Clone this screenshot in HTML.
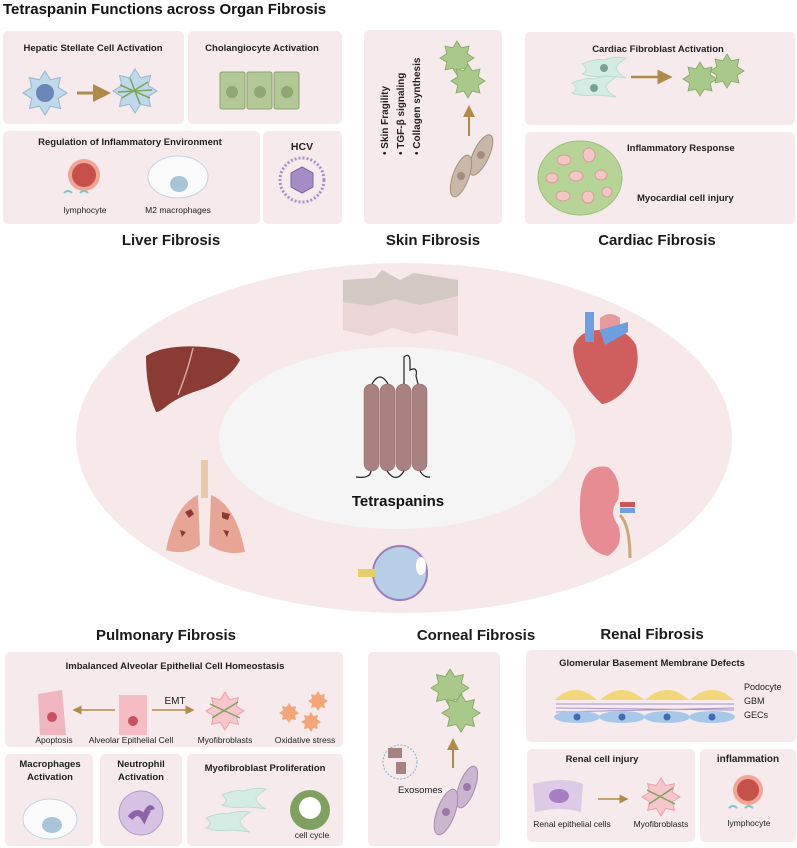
<!DOCTYPE html>
<html><head><meta charset="utf-8"><style>
html,body{margin:0;padding:0;background:#fff;}
svg{display:block;font-family:"Liberation Sans",Arial,sans-serif;}
.h{font-weight:bold;font-size:9.5px;fill:#222;}
.o{font-weight:bold;font-size:15px;fill:#1a1a1a;}
.s{font-size:8.5px;fill:#222;}
</style></head><body>
<svg width="797" height="848" viewBox="0 0 797 848" xmlns="http://www.w3.org/2000/svg">
<defs>
<path id="star" d="M20,0 L12,5 L14.1,14.1 L5,12 L0,20 L-5,12 L-14.1,14.1 L-12,5 L-20,0 L-12,-5 L-14.1,-14.1 L-5,-12 L0,-20 L5,-12 L14.1,-14.1 L12,-5 Z"/>
<path id="spin" d="M-22,-4 Q-8,-10 0,-8 Q10,-12 22,-10 Q12,-3 12,0 Q14,6 22,10 Q8,8 0,8 Q-10,10 -22,6 Q-14,2 -22,-4Z"/>
<marker id="ar" markerWidth="6" markerHeight="6" refX="5" refY="3" orient="auto"><path d="M0,0 L6,3 L0,6Z" fill="#b08a4a"/></marker>
</defs>

<text x="3" y="14" style="font-weight:bold;font-size:15px" fill="#111">Tetraspanin Functions across Organ Fibrosis</text>

<g fill="#f6eaec">
<rect x="3" y="31" width="181" height="93" rx="5"/>
<rect x="188" y="31" width="154" height="93" rx="5"/>
<rect x="3" y="131" width="257" height="93" rx="5"/>
<rect x="263" y="131" width="79" height="93" rx="5"/>
<rect x="364" y="30" width="138" height="194" rx="5"/>
<rect x="525" y="32" width="270" height="93" rx="5"/>
<rect x="525" y="132" width="270" height="92" rx="5"/>
<rect x="5" y="652" width="338" height="95" rx="5"/>
<rect x="5" y="754" width="88" height="92" rx="5"/>
<rect x="100" y="754" width="82" height="92" rx="5"/>
<rect x="187" y="754" width="156" height="92" rx="5"/>
<rect x="368" y="652" width="132" height="194" rx="5"/>
<rect x="526" y="650" width="270" height="92" rx="5"/>
<rect x="527" y="749" width="168" height="93" rx="5"/>
<rect x="700" y="749" width="96" height="93" rx="5"/>
</g>

<!-- Liver -->
<text class="h" x="93" y="51" text-anchor="middle">Hepatic Stellate Cell Activation</text>
<use href="#star" transform="translate(45,93) scale(1.1)" fill="#bfd8ea" stroke="#9bbad3"/>
<circle cx="45" cy="93" r="9" fill="#6b86b8"/>
<line x1="77" y1="93" x2="108" y2="93" stroke="#b08a4a" stroke-width="3" marker-end="url(#ar)"/>
<use href="#star" transform="translate(135,91) scale(1.1)" fill="#bfd8ea" stroke="#9bbad3"/>
<path d="M120,85 L150,98 M122,98 L148,82 M130,78 L140,104 M118,92 L152,90" stroke="#7ea35a" stroke-width="1.5"/>
<text class="h" x="262" y="51" text-anchor="middle">Cholangiocyte Activation</text>
<g fill="#b2c897" stroke="#8aa06e"><rect x="220" y="72" width="25" height="37" rx="2"/><rect x="247" y="72" width="25" height="37" rx="2"/><rect x="274" y="72" width="25" height="37" rx="2"/></g>
<g fill="#8fa873"><circle cx="232" cy="92" r="6"/><circle cx="260" cy="92" r="6"/><circle cx="287" cy="92" r="6"/></g>
<text class="h" x="130" y="145" text-anchor="middle">Regulation of Inflammatory Environment</text>
<circle cx="84" cy="175" r="16" fill="#f0a596"/><circle cx="84" cy="175" r="12" fill="#c6504a"/>
<path d="M64,193 q4,-4 8,0 M80,193 q4,-4 8,0" stroke="#7fc6c6" stroke-width="2" fill="none"/>
<text class="s" x="85" y="213" text-anchor="middle">lymphocyte</text>
<ellipse cx="178" cy="177" rx="30" ry="21" fill="#fafafa" stroke="#c5d3e3"/>
<ellipse cx="179" cy="184" rx="9" ry="8" fill="#a9c4d7"/>
<text class="s" x="178" y="213" text-anchor="middle">M2 macrophages</text>
<text class="h" x="302" y="150" text-anchor="middle" style="font-size:10.5px">HCV</text>
<circle cx="302" cy="180" r="22" fill="none" stroke="#a890c6" stroke-width="3" stroke-dasharray="2 2"/>
<polygon points="302,167 313,173 313,187 302,193 291,187 291,173" fill="#a58cc4" stroke="#7e63a5"/>
<text class="o" x="171" y="245" text-anchor="middle">Liver Fibrosis</text>

<!-- Skin -->
<g class="h" style="font-size:10px">
<text transform="translate(388,155) rotate(-90)">• Skin Fragility</text>
<text transform="translate(404,155) rotate(-90)">• TGF-β signaling</text>
<text transform="translate(420,155) rotate(-90)">• Collagen synthesis</text>
</g>
<use href="#star" transform="translate(457,58) scale(0.85)" fill="#a9c98b" stroke="#86a868"/>
<use href="#star" transform="translate(468,81) scale(0.85)" fill="#a9c98b" stroke="#86a868"/>
<line x1="469" y1="136" x2="469" y2="107" stroke="#b08a4a" stroke-width="2" marker-end="url(#ar)"/>
<ellipse cx="481" cy="155" rx="8" ry="22" transform="rotate(25 481 155)" fill="#c9b8a8" stroke="#a4907d"/>
<ellipse cx="461" cy="176" rx="8" ry="22" transform="rotate(20 461 176)" fill="#c9b8a8" stroke="#a4907d"/>
<circle cx="481" cy="155" r="4" fill="#a48a80"/><circle cx="461" cy="176" r="4" fill="#a48a80"/>
<text class="o" x="433" y="245" text-anchor="middle">Skin Fibrosis</text>

<!-- Cardiac -->
<text class="h" x="658" y="52" text-anchor="middle">Cardiac Fibroblast Activation</text>
<use href="#spin" transform="translate(604,68)" fill="#d5ece4" stroke="#bcdcd1"/>
<use href="#spin" transform="translate(594,87)" fill="#d5ece4" stroke="#bcdcd1"/>
<circle cx="604" cy="68" r="4" fill="#7aa092"/><circle cx="594" cy="88" r="4" fill="#7aa092"/>
<line x1="631" y1="77" x2="670" y2="77" stroke="#b08a4a" stroke-width="2.5" marker-end="url(#ar)"/>
<use href="#star" transform="translate(700,79) scale(0.85)" fill="#a9c98b" stroke="#86a868"/>
<use href="#star" transform="translate(727,71) scale(0.85)" fill="#a9c98b" stroke="#86a868"/>
<text class="h" x="627" y="151">Inflammatory Response</text>
<text class="h" x="637" y="201">Myocardial cell injury</text>
<ellipse cx="580" cy="178" rx="42" ry="37" fill="#b7d497" stroke="#9bc07a"/>
<g fill="#f2c8c6" stroke="#d89b98"><ellipse cx="564" cy="160" rx="7" ry="5"/><ellipse cx="589" cy="155" rx="6" ry="7"/><ellipse cx="552" cy="178" rx="6" ry="5"/><ellipse cx="576" cy="176" rx="7" ry="5"/><ellipse cx="601" cy="175" rx="6" ry="5"/><ellipse cx="563" cy="196" rx="7" ry="5"/><ellipse cx="588" cy="197" rx="6" ry="6"/><ellipse cx="607" cy="192" rx="5" ry="5"/></g>
<text class="o" x="657" y="245" text-anchor="middle">Cardiac Fibrosis</text>

<!-- center -->
<ellipse cx="404" cy="438" rx="328" ry="175" fill="#f7e8ea"/>
<ellipse cx="397" cy="438" rx="178" ry="91" fill="#f5f5f5"/>
<!-- skin tissue -->
<path d="M343,280 L375,278 L382,270 L400,280 L414,273 L458,280 L458,336 L430,330 L414,334 L392,328 L370,336 L343,330Z" fill="#ead6d6"/>
<path d="M343,280 L375,278 L382,270 L400,280 L414,273 L458,280 L458,296 L420,305 L395,299 L370,306 L343,302Z" fill="#d2c9c2"/>
<!-- liver -->
<path d="M146,356 Q165,344 205,347 Q235,350 240,360 Q230,380 200,390 Q180,396 168,405 Q160,412 156,412 Q146,390 146,356Z" fill="#8a3b33"/>
<path d="M193,348 Q188,370 178,395" stroke="#d8a8a0" stroke-width="1.5" fill="none"/>
<!-- heart -->
<path d="M573,348 Q578,330 600,330 Q625,326 636,345 Q643,375 620,395 Q610,403 602,404 Q575,380 573,348Z" fill="#cf5e5e"/>
<path d="M600,318 Q610,310 620,318 L620,332 L600,332Z" fill="#e69c9c"/>
<rect x="585" y="312" width="9" height="30" fill="#6f9fe0"/><path d="M600,330 L628,322 L628,332 L605,345Z" fill="#6f9fe0"/>
<!-- lungs -->
<rect x="201" y="460" width="7" height="38" fill="#e9c9a8"/>
<path d="M198,495 Q175,505 166,550 Q186,556 200,545Z M211,495 Q236,505 245,552 Q225,556 209,545Z" fill="#e7a695"/>
<path d="M185,512 l6,-3 l3,5 l-5,4z M222,512 l8,2 l-2,6 l-6,-2z M223,530 l6,1 l-2,6z M180,530 l6,2 l-4,5z" fill="#8a3b33"/>
<!-- kidney -->
<path d="M608,467 Q580,462 580,505 Q578,550 608,556 Q625,545 618,525 Q608,512 618,500 Q622,478 608,467Z" fill="#e88c93"/>
<rect x="620" y="502" width="15" height="5" fill="#c55"/><rect x="620" y="508" width="15" height="5" fill="#6f9fe0"/>
<path d="M620,515 Q630,525 630,558" stroke="#c8a878" stroke-width="3" fill="none"/>
<!-- eye -->
<circle cx="400" cy="573" r="27" fill="#b8cde6" stroke="#9a7fbd" stroke-width="2"/>
<rect x="358" y="569" width="18" height="8" fill="#e5cf6a"/>
<ellipse cx="421" cy="566" rx="5" ry="9" fill="#fff"/>
<!-- tetraspanin -->
<g fill="#a88181" stroke="#8b6767" stroke-width="0.5">
<rect x="364" y="384" width="15" height="87" rx="7"/><rect x="380" y="384" width="15" height="87" rx="7"/>
<rect x="396" y="384" width="15" height="87" rx="7"/><rect x="412" y="384" width="15" height="87" rx="7"/>
</g>
<path d="M372,384 Q380,370 388,384 M404,384 L404,357 Q410,352 410,362 L410,370 Q418,366 416,376 L418,384 M356,477 Q370,479 371,471 M387,471 Q396,484 404,471 M420,471 Q424,478 430,477" stroke="#222" fill="none" stroke-width="1.2"/>
<text x="398" y="506" text-anchor="middle" style="font-weight:bold;font-size:15px" fill="#111">Tetraspanins</text>

<!-- Pulmonary -->
<text class="o" x="166" y="640" text-anchor="middle">Pulmonary Fibrosis</text>
<text class="h" x="175" y="669" text-anchor="middle">Imbalanced Alveolar Epithelial Cell Homeostasis</text>
<path d="M38,694 L62,690 L66,735 L40,735 Z" fill="#f0b6bf"/><circle cx="52" cy="717" r="5" fill="#c8505f"/>
<line x1="115" y1="710" x2="74" y2="710" stroke="#b08a4a" stroke-width="1.5" marker-end="url(#ar)"/>
<rect x="119" y="695" width="28" height="40" fill="#f5bcc4"/><circle cx="133" cy="721" r="5" fill="#c8505f"/>
<line x1="152" y1="710" x2="193" y2="710" stroke="#b08a4a" stroke-width="1.5" marker-end="url(#ar)"/>
<text x="175" y="704" text-anchor="middle" style="font-size:10px" fill="#222">EMT</text>
<use href="#star" transform="translate(225,711) scale(0.95)" fill="#f7c5cc" stroke="#e8a0aa"/>
<path d="M210,704 L240,718 M212,718 L238,702" stroke="#7ea35a" stroke-width="1.5"/>
<g fill="#f2a679"><use href="#star" transform="translate(289,713) scale(0.5)"/><use href="#star" transform="translate(318,701) scale(0.5)"/><use href="#star" transform="translate(311,722) scale(0.5)"/></g>
<g class="s"><text x="54" y="743" text-anchor="middle">Apoptosis</text><text x="131" y="743" text-anchor="middle">Alveolar Epithelial Cell</text><text x="225" y="743" text-anchor="middle">Myofibroblasts</text><text x="305" y="743" text-anchor="middle">Oxidative stress</text></g>
<text class="h" x="50" y="767" text-anchor="middle">Macrophages</text><text class="h" x="50" y="780" text-anchor="middle">Activation</text>
<ellipse cx="50" cy="819" rx="27" ry="20" fill="#fafafa" stroke="#c5d3e3"/><ellipse cx="52" cy="825" rx="10" ry="8" fill="#a9c4d7"/>
<text class="h" x="141" y="767" text-anchor="middle">Neutrophil</text><text class="h" x="141" y="780" text-anchor="middle">Activation</text>
<circle cx="141" cy="813" r="22" fill="#d6c2e2" stroke="#b49ccc"/><path d="M130,818 q8,-10 14,0 q6,-14 8,-8" stroke="#8c62a8" stroke-width="6" fill="none"/>
<text class="h" x="265" y="771" text-anchor="middle">Myofibroblast Proliferation</text>
<use href="#spin" transform="translate(244,799)" fill="#d5ece4" stroke="#bcdcd1"/>
<use href="#spin" transform="translate(228,822)" fill="#d5ece4" stroke="#bcdcd1"/>
<circle cx="310" cy="810" r="20" fill="#7ea060"/><circle cx="310" cy="808" r="11" fill="#fff"/>
<text class="s" x="312" y="838" text-anchor="middle">cell cycle</text>

<!-- Corneal -->
<text class="o" x="476" y="640" text-anchor="middle">Corneal Fibrosis</text>
<use href="#star" transform="translate(450,688) scale(0.95)" fill="#a9c98b" stroke="#86a868"/>
<use href="#star" transform="translate(461,713) scale(0.95)" fill="#a9c98b" stroke="#86a868"/>
<line x1="453" y1="768" x2="453" y2="740" stroke="#b08a4a" stroke-width="2" marker-end="url(#ar)"/>
<circle cx="400" cy="762" r="17" fill="none" stroke="#8fb0cc" stroke-dasharray="2 1.5"/>
<rect x="388" y="748" width="14" height="10" fill="#a88181"/><rect x="396" y="762" width="10" height="12" fill="#a88181"/>
<text class="s" x="398" y="793" style="font-size:9.5px">Exosomes</text>
<ellipse cx="467" cy="787" rx="8" ry="22" transform="rotate(20 467 787)" fill="#cbb5cf" stroke="#a88db0"/>
<ellipse cx="446" cy="812" rx="9" ry="24" transform="rotate(20 446 812)" fill="#cbb5cf" stroke="#a88db0"/>
<circle cx="467" cy="787" r="4" fill="#9a78a8"/><circle cx="446" cy="812" r="4" fill="#9a78a8"/>

<!-- Renal -->
<text class="o" x="652" y="639" text-anchor="middle">Renal Fibrosis</text>
<text class="h" x="652" y="666" text-anchor="middle">Glomerular Basement Membrane Defects</text>
<g fill="#f1d67a"><path d="M555,700 Q575,680 597,700Z"/><path d="M600,700 Q622,680 644,700Z"/><path d="M645,700 Q667,680 689,700Z"/><path d="M690,700 Q712,680 734,700Z"/></g>
<path d="M556,704 L734,704 M556,708 L734,710 M556,712 L734,708" stroke="#a893c9" stroke-width="1"/>
<g fill="#a8c8ea"><ellipse cx="577" cy="717" rx="23" ry="6"/><ellipse cx="622" cy="717" rx="23" ry="6"/><ellipse cx="667" cy="717" rx="23" ry="6"/><ellipse cx="712" cy="717" rx="23" ry="6"/></g>
<g fill="#3f6cb2"><circle cx="577" cy="717" r="3.5"/><circle cx="622" cy="717" r="3.5"/><circle cx="667" cy="717" r="3.5"/><circle cx="712" cy="717" r="3.5"/></g>
<g class="s" style="font-size:9px"><text x="744" y="690">Podocyte</text><text x="744" y="704">GBM</text><text x="744" y="718">GECs</text></g>
<text class="h" x="602" y="762" text-anchor="middle">Renal cell injury</text>
<path d="M533,784 Q565,776 583,784 L581,812 Q560,806 535,812Z" fill="#dccae6"/><ellipse cx="559" cy="796" rx="10" ry="7" fill="#a77ec0"/>
<line x1="598" y1="799" x2="627" y2="799" stroke="#b08a4a" stroke-width="1.5" marker-end="url(#ar)"/>
<use href="#star" transform="translate(661,797) scale(0.95)" fill="#f7c5cc" stroke="#e8a0aa"/>
<path d="M647,790 L675,804 M649,804 L673,788" stroke="#7ea35a" stroke-width="1.5"/>
<g class="s"><text x="572" y="827" text-anchor="middle">Renal epithelial cells</text><text x="661" y="827" text-anchor="middle">Myofibroblasts</text></g>
<text class="h" x="748" y="762" text-anchor="middle" style="font-size:10px">inflammation</text>
<circle cx="748" cy="790" r="15" fill="#f0a596"/><circle cx="748" cy="790" r="11" fill="#c6504a"/>
<path d="M729,808 q4,-4 8,0 M745,808 q4,-4 8,0" stroke="#7fc6c6" stroke-width="2" fill="none"/>
<text class="s" x="749" y="826" text-anchor="middle">lymphocyte</text>
</svg>
</body></html>
